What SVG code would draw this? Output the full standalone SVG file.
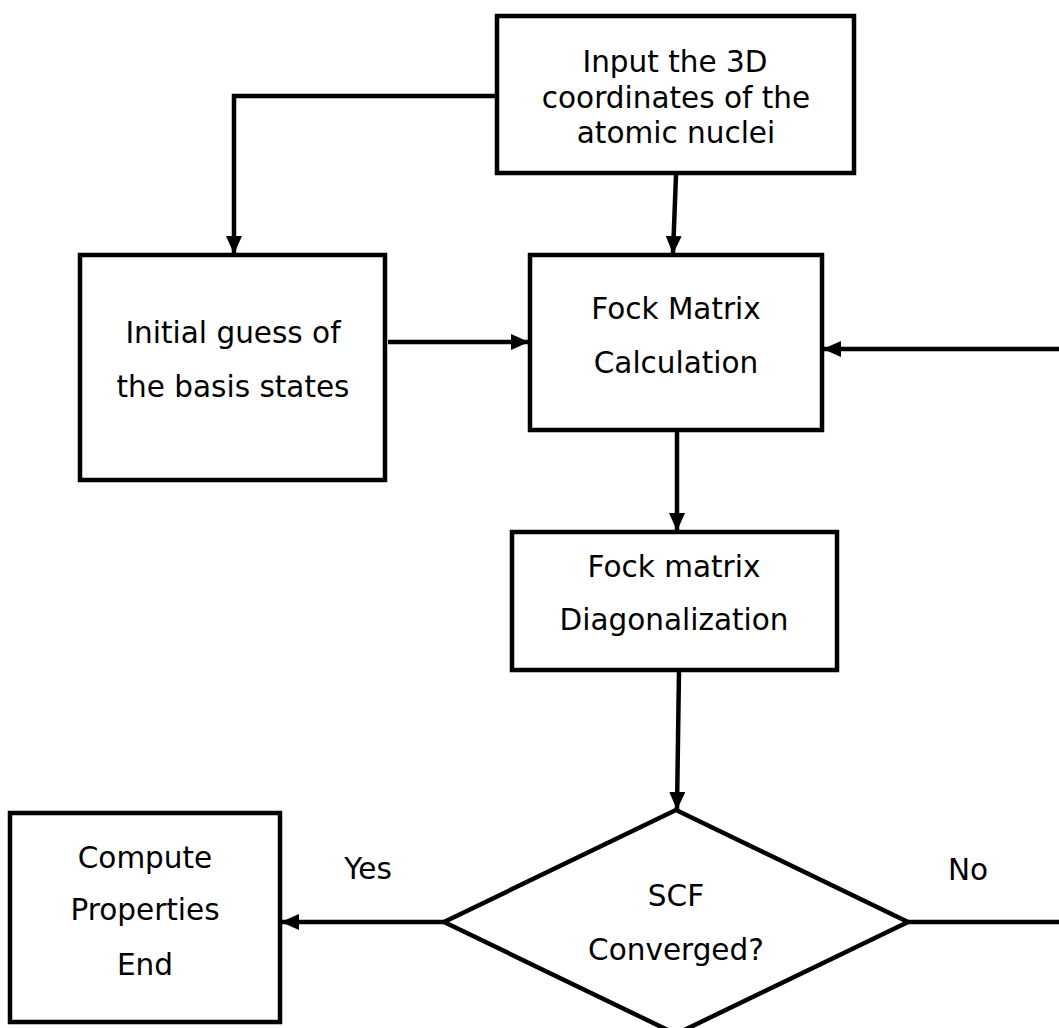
<svg xmlns="http://www.w3.org/2000/svg" width="1059" height="1028" viewBox="0 0 1059 1028">
<defs>
<marker id="arr" markerUnits="userSpaceOnUse" markerWidth="18" markerHeight="16" viewBox="0 0 18 16" refX="17" refY="8" orient="auto">
<path d="M0,0 L18,8 L0,16 Z" fill="#000"/>
</marker>
<style>
.box{fill:#fff;stroke:#000;stroke-width:4.5}
.t{font-family:"DejaVu Sans",Verdana,sans-serif;font-size:29.5px;fill:#000;text-anchor:middle}
.c{fill:none;stroke:#000;stroke-width:4.5}
</style>
</defs>
<rect width="1059" height="1028" fill="#fff"/>
<g id="connectors">
<path class="c" d="M497,96 H234 V253" marker-end="url(#arr)"/>
<path class="c" d="M676,175 L673,253" marker-end="url(#arr)"/>
<path class="c" d="M388,342 H528" marker-end="url(#arr)"/>
<path class="c" d="M677,430 V530" marker-end="url(#arr)"/>
<path class="c" d="M679,670 L677,809" marker-end="url(#arr)"/>
<path class="c" d="M444,922 H282" marker-end="url(#arr)"/>
<path class="c" d="M908,922 H1064 V349 H824" marker-end="url(#arr)"/>
<text class="t" x="368" y="879">Yes</text>
<text class="t" x="968" y="880">No</text>
</g>
<g id="input">
<rect class="box" x="497" y="16" width="357" height="157"/>
<text class="t" x="675" y="72">Input the 3D</text>
<text class="t" x="676" y="108">coordinates of the</text>
<text class="t" x="676" y="143">atomic nuclei</text>
</g>
<g id="guess">
<rect class="box" x="80" y="255" width="305" height="225"/>
<text class="t" x="233" y="343">Initial guess of</text>
<text class="t" x="233" y="397">the basis states</text>
</g>
<g id="fock">
<rect class="box" x="530" y="255" width="292" height="175"/>
<text class="t" x="676" y="319">Fock Matrix</text>
<text class="t" x="676" y="373">Calculation</text>
</g>
<g id="diag">
<rect class="box" x="512" y="532" width="325" height="138"/>
<text class="t" x="674" y="577">Fock matrix</text>
<text class="t" x="674" y="630">Diagonalization</text>
</g>
<g id="scf">
<polygon class="box" points="676,810 908,922 676,1034 444,922"/>
<text class="t" x="676" y="906">SCF</text>
<text class="t" x="676" y="960">Converged?</text>
</g>
<g id="compute">
<rect class="box" x="10" y="813" width="270" height="209"/>
<text class="t" x="145" y="868">Compute</text>
<text class="t" x="145" y="920">Properties</text>
<text class="t" x="145" y="975">End</text>
</g>
</svg>
